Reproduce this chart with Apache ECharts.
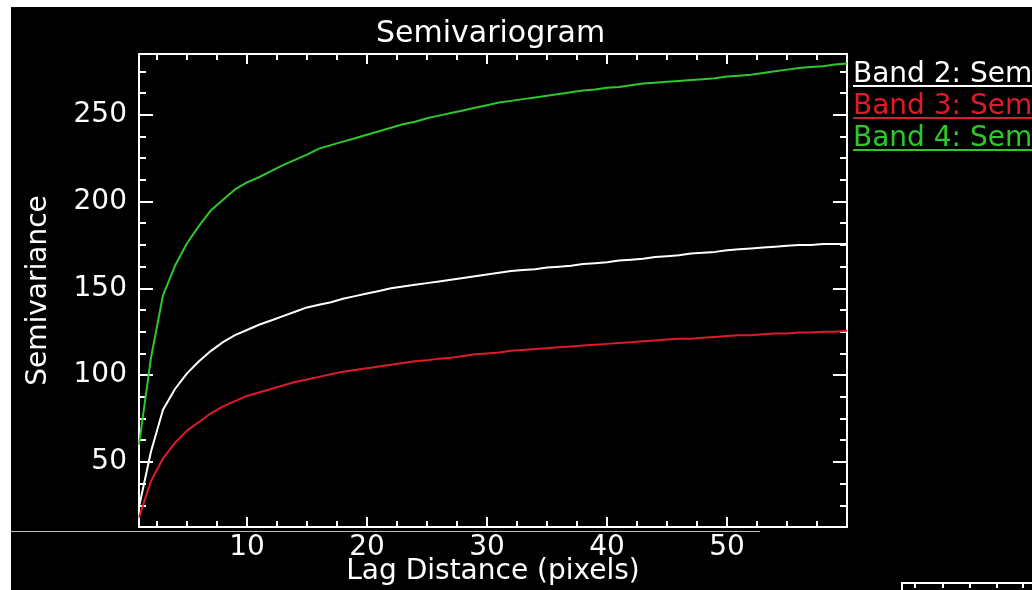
<!DOCTYPE html>
<html>
<head>
<meta charset="utf-8">
<script src="https://cdn.jsdelivr.net/npm/echarts@6/dist/echarts.min.js"></script>
<style>
  html, body { margin: 0; padding: 0; background: #000; }
  #chart { width: 1032px; height: 590px; }
</style>
</head>
<body>
<div id="chart"></div>
<script>
// lag distance (pixels)
const lags = [
  1, 2, 3, 4, 5, 6, 7, 8, 9, 10, 11, 12, 13, 14, 15, 16, 17, 18, 19, 20,
  21, 22, 23, 24, 25, 26, 27, 28, 29, 30, 31, 32, 33, 34, 35, 36, 37, 38, 39, 40,
  41, 42, 43, 44, 45, 46, 47, 48, 49, 50, 51, 52, 53, 54, 55, 56, 57, 58, 59, 60
];

const band2 = [
  24, 56, 80, 92, 101, 108, 114, 119, 123, 126, 129, 131.5, 134, 136.5, 139, 140.5, 142, 144, 145.5, 147,
  148.5, 150, 151, 152, 153, 154, 155, 156, 157, 158, 159, 160, 160.5, 161, 162, 162.5, 163, 164, 164.5, 165,
  166, 166.5, 167, 168, 168.5, 169, 170, 170.5, 171, 172, 172.5, 173, 173.5, 174, 174.5, 175, 175, 175.5, 175.5, 175.5
];

const band3 = [
  18, 39, 52, 61, 68, 73, 78, 82, 85, 88, 90, 92, 94, 96, 97.5, 99, 100.5, 102, 103, 104,
  105, 106, 107, 108, 108.5, 109.5, 110, 111, 112, 112.5, 113, 114, 114.5, 115, 115.5, 116, 116.5, 117, 117.5, 118,
  118.5, 119, 119.5, 120, 120.5, 121, 121, 121.5, 122, 122.5, 123, 123, 123.5, 124, 124, 124.5, 124.5, 125, 125, 125.5
];

const band4 = [
  60, 110, 146, 163, 176, 186, 195, 201, 207, 211, 214, 217.5, 221, 224, 227, 230.5, 232.5, 234.5, 236.5, 238.5,
  240.5, 242.5, 244.5, 246, 248, 249.5, 251, 252.5, 254, 255.5, 257, 258, 259, 260, 261, 262, 263, 264, 264.5, 265.5,
  266, 267, 268, 268.5, 269, 269.5, 270, 270.5, 271, 272, 272.5, 273, 274, 275, 276, 277, 277.5, 278, 279, 279.5
];

const xMajorTicks = [10, 20, 30, 40, 50];
const xMinorTicks = [2.5, 5, 7.5, 12.5, 15, 17.5, 22.5, 25, 27.5, 32.5, 35, 37.5, 42.5, 45, 47.5, 52.5, 55, 57.5];
const yMajorTicks = [50, 100, 150, 200, 250];
const yMinorTicks = [25, 37.5, 62.5, 75, 87.5, 112.5, 125, 137.5, 162.5, 175, 187.5, 212.5, 225, 237.5, 262.5, 275];

const bandNames = ['Band 2: Semivariogram', 'Band 3: Semivariogram', 'Band 4: Semivariogram'];
const bandColors = ['#ffffff', '#e01a2a', '#2ec82e'];

const chart = echarts.init(document.getElementById('chart'));

const font = 'DejaVu Sans';
const xRange = { min: 1, max: 60 };
const yRange = { min: 12.5, max: 285 };

const axisLine = { show: true, lineStyle: { color: '#fff', width: 2 } };

const xAxis = (position, values, len, main) => ({
  type: 'value',
  position: position,
  ...xRange,
  axisLine: main ? axisLine : { show: false },
  axisTick: {
    show: true, inside: true, length: len, customValues: values,
    lineStyle: { color: '#fff', width: 2 }
  },
  axisLabel: main && position === 'bottom'
    ? { show: true, customValues: values, color: '#fff', fontFamily: font, fontSize: 28, margin: 7 }
    : { show: false },
  splitLine: { show: false }
});

const yAxis = (position, values, len, main) => ({
  type: 'value',
  position: position,
  ...yRange,
  axisLine: main ? axisLine : { show: false },
  axisTick: {
    show: true, inside: true, length: len, customValues: values,
    lineStyle: { color: '#fff', width: 2 }
  },
  axisLabel: main && position === 'left'
    ? { show: true, customValues: values, color: '#fff', fontFamily: font, fontSize: 28, margin: 12 }
    : { show: false },
  splitLine: { show: false }
});

const xAxes = [
  xAxis('bottom', xMajorTicks, 10, true),
  xAxis('bottom', xMinorTicks, 6, false),
  xAxis('top', xMajorTicks, 10, true),
  xAxis('top', xMinorTicks, 6, false)
];
xAxes[0].name = 'Lag Distance (pixels)';
xAxes[0].nameLocation = 'middle';
xAxes[0].nameGap = 31;
xAxes[0].nameMoveOverlap = false;
xAxes[0].nameTextStyle = { color: '#fff', fontFamily: font, fontSize: 28 };

const yAxes = [
  yAxis('left', yMajorTicks, 14, true),
  yAxis('left', yMinorTicks, 7, false),
  yAxis('right', yMajorTicks, 14, true),
  yAxis('right', yMinorTicks, 7, false)
];
yAxes[0].name = 'Semivariance';
yAxes[0].nameLocation = 'middle';
yAxes[0].nameRotate = 90;
yAxes[0].nameGap = 86;
yAxes[0].nameMoveOverlap = false;
yAxes[0].nameTextStyle = { color: '#fff', fontFamily: font, fontSize: 28 };

const makeSeries = (name, values, color) => ({
  name: name,
  type: 'line',
  xAxisIndex: 0,
  yAxisIndex: 0,
  data: lags.map((lag, i) => [lag, values[i]]),
  showSymbol: false,
  lineStyle: { color: color, width: 2 },
  itemStyle: { color: color }
});

// legend: text with a coloured line under each entry
const legendItems = [];
bandNames.forEach((name, i) => {
  const y = 72 + i * 32;
  legendItems.push({
    type: 'text', left: 853, top: y - 11,
    style: { text: name, fill: bandColors[i], font: '28px "DejaVu Sans"' }
  });
  legendItems.push({
    type: 'line',
    shape: { x1: 853, y1: y + 14, x2: 1032, y2: y + 14 },
    style: { stroke: bandColors[i], lineWidth: 2 }
  });
});

const option = {
  backgroundColor: '#000',
  animation: false,
  title: {
    text: 'Semivariogram',
    left: 376,
    top: 19,
    padding: 0,
    textStyle: { color: '#fff', fontFamily: font, fontSize: 30, fontWeight: 'normal' }
  },
  grid: { left: 139, right: 185, top: 54, bottom: 63, containLabel: false, outerBoundsMode: 'none' },
  xAxis: xAxes,
  yAxis: yAxes,
  series: [
    makeSeries(bandNames[0], band2, bandColors[0]),
    makeSeries(bandNames[1], band3, bandColors[1]),
    makeSeries(bandNames[2], band4, bandColors[2])
  ],
  graphic: [
    // screen-capture edges
    { type: 'rect', shape: { x: 0, y: 0, width: 1032, height: 7 }, style: { fill: '#fff' } },
    { type: 'rect', shape: { x: 0, y: 0, width: 11, height: 590 }, style: { fill: '#fff' } },
    { type: 'line', shape: { x1: 11, y1: 531.5, x2: 760, y2: 531.5 }, style: { stroke: '#bbb', lineWidth: 1 } },
    { type: 'polyline', shape: { points: [[902, 590], [902, 583], [1032, 583]] }, style: { stroke: '#fff', lineWidth: 2, fill: null } },
    ...[915, 943, 970, 997, 1023].map(x => ({
      type: 'line', shape: { x1: x, y1: 583, x2: x, y2: 588 }, style: { stroke: '#fff', lineWidth: 2 }
    })),
    ...legendItems
  ]
};

chart.setOption(option);
</script>
</body>
</html>
